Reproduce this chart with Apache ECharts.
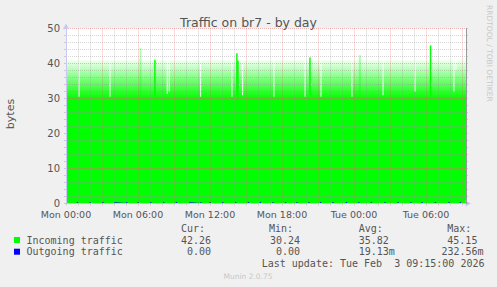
<!DOCTYPE html>
<html><head><meta charset="utf-8">
<script src="https://cdn.jsdelivr.net/npm/echarts@6/dist/echarts.min.js"></script>
<style>html,body{margin:0;padding:0;background:#f0f0f0}#c{width:497px;height:287px}</style>
</head><body><div id="c"></div>
<script>
// Time is in hours since Mon 00:00 (graph ends Tue 09:20)
const xMaxHours = 400 / 12;
const xTickLabels = ['Mon 00:00', 'Mon 06:00', 'Mon 12:00', 'Mon 18:00', 'Tue 00:00', 'Tue 06:00'];
const yTickLabels = ['0', '10', '20', '30', '40', '50'];

// Incoming traffic: upper envelope of the noisy band [hour, bytes]
const incomingEnvelope = [[0, 41.9], [0.5, 41.0], [5.8, 41.3], [6.4, 41.0], [9.5, 40.8], [10.5, 41.2], [12, 41.0], [24.2, 41.4], [24.6, 41.0], [30.2, 41.5], [31.0, 42.0], [33.2, 42.26]];
// Incoming traffic: short drops [hour, bytes]
const incomingDips = [[1.08, 30.5], [3.67, 30.5], [8.43, 31.3], [8.6, 32.0], [11.22, 30.5], [13.83, 30.5], [14.72, 30.9], [17.33, 30.5], [19.92, 30.5], [21.25, 30.5], [23.83, 30.5], [26.42, 30.9], [29.08, 31.9], [32.33, 31.9], [32.5, 38.0]];
// Incoming traffic: short peaks [hour, bytes]
const incomingPeaks = [[7.5, 41.1], [14.33, 42.9], [14.42, 40.8], [20.42, 41.7], [30.47, 45.15]];
const incomingFaintPeaks = [[6.14, 44.5], [24.42, 42.4]];
// Outgoing traffic: small bumps [hour, bytes]
const outgoingBumps = [[0.95, 0.22], [2.0, 0.21], [3.08, 0.22], [4.0, 0.2], [5.06, 0.22], [6.0, 0.21], [7.06, 0.22], [8.14, 0.21], [9.2, 0.22], [10.25, 0.2], [11.25, 0.22], [12.0, 0.21], [13.06, 0.22], [14.14, 0.21], [15.2, 0.22], [16.2, 0.21], [17.25, 0.22], [18.3, 0.21], [19.25, 0.22], [20.25, 0.21], [21.22, 0.22], [22.25, 0.21], [23.37, 0.23], [24.4, 0.21], [25.45, 0.22], [26.58, 0.21], [27.67, 0.22], [28.75, 0.21], [29.67, 0.22], [30.78, 0.23256], [31.92, 0.21], [32.87, 0.22]];

// Legend table
const legendNames = ['Incoming traffic', 'Outgoing traffic'];
const legendColors = ['#00ff00', '#0000ff'];
const statHeaders = ['Cur:', 'Min:', 'Avg:', 'Max:'];
const incomingStats = ['42.26', '30.24', '35.82', '45.15'];
const outgoingStats = [' 0.00', ' 0.00', '19.13m', '232.56m'];
const lastUpdate = 'Last update: Tue Feb  3 09:15:00 2026';

const half = 1 / 24;
function envAt(h) {
  let v = incomingEnvelope[0][1];
  for (const p of incomingEnvelope) if (p[0] <= h) v = p[1];
  return v;
}
let incomingData = incomingEnvelope.map(p => [p[0], p[1]]);
incomingDips.forEach(d => { incomingData.push([d[0] - half, d[1]]); incomingData.push([d[0] + half, envAt(d[0] + half)]); });
incomingData.sort((a, b) => a[0] - b[0]);
incomingData.push([xMaxHours, incomingEnvelope[incomingEnvelope.length - 1][1]]);
const maxMain = Math.max(...incomingData.map(p => p[1]));
const off = v => Math.min(1, Math.max(0, (maxMain - v) / maxMain));

let outgoingData = [[0, 0]];
outgoingBumps.forEach(b => { outgoingData.push([b[0] - half, b[1]]); outgoingData.push([b[0] + half, 0]); });
outgoingData.push([xMaxHours, 0]);

const red = 'rgba(230,100,100,0.45)', grey = 'rgba(150,150,150,0.4)';
const mono = 'DejaVu Sans Mono', sans = 'DejaVu Sans';
const graphics = [];
graphics.push({ type: 'text', x: 10, y: 114, rotation: Math.PI / 2, style: { text: 'bytes', font: '11px ' + sans, fill: '#555', align: 'center', verticalAlign: 'middle' } });
graphics.push({ type: 'text', x: 489, y: 5, rotation: -Math.PI / 2, style: { text: 'RRDTOOL / TOBI OETIKER', font: '7.5px ' + sans, fill: '#c8c8c8', align: 'left', verticalAlign: 'middle' } });
const colX = [181, 269, 358.7, 447.3];
const valX = [[181, 270, 358.7, 447.3], [181, 270, 358.7, 441.4]];
statHeaders.forEach((t, i) => graphics.push({ type: 'text', x: colX[i], y: 228, style: { text: t, font: '10px ' + mono, fill: '#555', verticalAlign: 'middle' } }));
[incomingStats, outgoingStats].forEach((row, r) => {
  const y = 240 + r * 11.7;
  graphics.push({ type: 'rect', shape: { x: 14, y: y - 3, width: 6, height: 6 }, style: { fill: legendColors[r] } });
  graphics.push({ type: 'text', x: 26.5, y: y, style: { text: legendNames[r], font: '10px ' + mono, fill: '#555', verticalAlign: 'middle' } });
  row.forEach((t, i) => graphics.push({ type: 'text', x: valX[r][i], y: y, style: { text: t, font: '10px ' + mono, fill: '#555', verticalAlign: 'middle' } }));
});
graphics.push({ type: 'text', x: 261.7, y: 263.5, style: { text: lastUpdate, font: '10px ' + mono, fill: '#555', verticalAlign: 'middle' } });
graphics.push({ type: 'text', x: 248, y: 276.5, style: { text: 'Munin 2.0.75', font: '7.5px ' + sans, fill: '#c8c8c8', align: 'center', verticalAlign: 'middle' } });

const chart = echarts.init(document.getElementById('c'), null, { renderer: 'svg' });
chart.setOption({
  backgroundColor: '#f0f0f0',
  animation: false,
  title: { text: 'Traffic on br7 - by day', left: 'center', top: 11, textStyle: { fontFamily: sans, fontSize: 12.5, fontWeight: 'normal', color: '#555' } },
  grid: { left: 66, top: 28.5, width: 400, height: 175, show: true, backgroundColor: '#ffffff', borderWidth: 0 },
  xAxis: {
    type: 'value', min: 0, max: xMaxHours, interval: 1, z: 5,
    axisLine: { lineStyle: { color: '#c8c8f4', width: 1 }, symbol: ['none', 'arrow'], symbolSize: [5, 6], symbolOffset: [0, 5] },
    axisTick: { show: true, length: 2, lineStyle: { color: grey } },
    axisLabel: { interval: 0, margin: 5.5, color: '#555', fontFamily: sans, fontSize: 9.5, formatter: v => (Math.abs(v % 6) < 1e-9 ? xTickLabels[v / 6] : '') },
    splitLine: { show: true, lineStyle: { color: [red, grey, grey], type: [1, 1], width: 1 } }
  },
  yAxis: [{
    type: 'value', min: 0, max: 50, interval: 2, z: 5, position: 'left',
    axisLine: { show: true, lineStyle: { color: '#c8c8f4', width: 1 }, symbol: ['none', 'arrow'], symbolSize: [5, 6], symbolOffset: [0, 5] },
    axisTick: { show: true, length: 2, lineStyle: { color: grey } },
    axisLabel: { interval: 0, margin: 6, color: '#555', fontFamily: sans, fontSize: 10, formatter: v => (v % 10 === 0 ? yTickLabels[v / 10] : '') },
    splitLine: { show: true, lineStyle: { color: [red, grey, grey, grey, grey], type: [1, 1], width: 1 } }
  }, {
    type: 'value', min: 0, max: 50, interval: 2, z: 6, position: 'right',
    axisLine: { show: true, lineStyle: { color: '#999', width: 1 } },
    axisTick: { show: true, length: 2, lineStyle: { color: grey } },
    axisLabel: { show: false }, splitLine: { show: false }
  }],
  series: [{
    name: 'Incoming traffic', type: 'line', step: 'end', showSymbol: false, data: incomingData,
    lineStyle: { width: 0, opacity: 0 },
    areaStyle: {
      opacity: 1,
      color: { type: 'linear', x: 0, y: 0, x2: 0, y2: 1, colorStops: [
        { offset: 0, color: 'rgba(0,255,0,0)' },
        { offset: off(41.5), color: 'rgba(0,255,0,0)' },
        { offset: off(30), color: 'rgba(0,255,0,1)' },
        { offset: 1, color: 'rgba(0,255,0,1)' }
      ] }
    }
  }, {
    name: 'Incoming peaks', type: 'bar', barWidth: 1.5, data: incomingPeaks, itemStyle: { color: '#00ff00' }, z: 3
  }, {
    name: 'Incoming faint peaks', type: 'bar', barWidth: 2, data: incomingFaintPeaks, itemStyle: { color: 'rgba(0,255,0,0.3)' }, z: 3
  }, {
    name: 'Outgoing traffic', type: 'line', step: 'end', showSymbol: false, data: outgoingData,
    lineStyle: { color: '#0000ff', width: 1 }, z: 4
  }],
  graphic: graphics
});
</script></body></html>
